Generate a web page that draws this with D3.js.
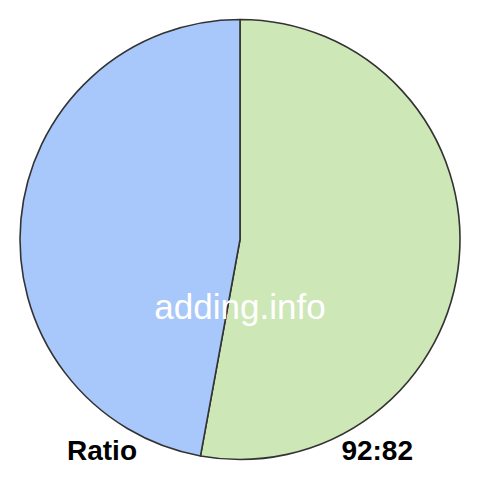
<!DOCTYPE html>
<html><head><meta charset="utf-8">
<script src="https://cdn.jsdelivr.net/npm/d3@7"></script>
<style>html,body{margin:0;padding:0;background:#fff;}</style>
</head><body>
<svg id="c" width="480" height="480"></svg>
<script>
const labels = ["A", "B"];
const values = [92, 82];
const colors = ["#cde7b7", "#a8c7fa"];
const watermark = "adding.info";
const leftLabel = "Ratio";
const rightLabel = values.join(":");

const svg = d3.select("#c");
const cx = 240, cy = 239.5, r = 220;
const pie = d3.pie().sort(null).value(d => d)(values);
const arc = d3.arc().innerRadius(0).outerRadius(r);
const g = svg.append("g").attr("transform", `translate(${cx},${cy})`);
g.selectAll("path").data(pie).join("path")
  .attr("d", arc)
  .attr("fill", (d, i) => colors[i])
  .attr("stroke", "#333")
  .attr("stroke-width", 1.6)
  .attr("stroke-linejoin", "round");

svg.append("text").attr("x", 240).attr("y", 319)
  .attr("text-anchor", "middle")
  .attr("font-family", "Liberation Sans, Arial, sans-serif")
  .attr("font-size", 35).attr("fill", "#fff").text(watermark);
svg.append("text").attr("x", 67).attr("y", 460)
  .attr("font-family", "Liberation Sans, Arial, sans-serif")
  .attr("font-weight", "bold").attr("font-size", 28).attr("fill", "#000").text(leftLabel);
svg.append("text").attr("x", 413).attr("y", 460).attr("text-anchor", "end")
  .attr("font-family", "Liberation Sans, Arial, sans-serif")
  .attr("font-weight", "bold").attr("font-size", 28).attr("fill", "#000").text(rightLabel);
</script>
</body></html>
